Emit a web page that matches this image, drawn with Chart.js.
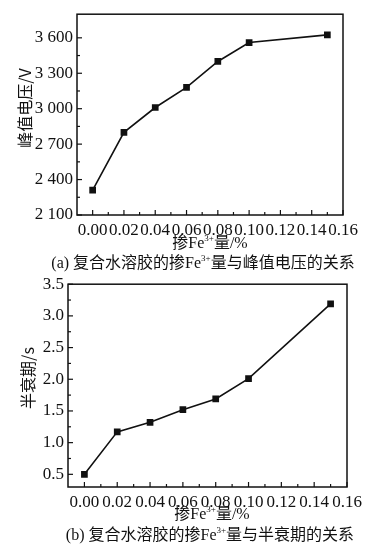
<!DOCTYPE html>
<html><head><meta charset="utf-8">
<script src="https://cdn.jsdelivr.net/npm/chart.js@4/dist/chart.umd.min.js"></script>
<style>
html,body{margin:0;padding:0;background:#fff;}
body{width:382px;height:550px;position:relative;overflow:hidden;font-family:"Liberation Serif","Noto Sans CJK SC",serif;color:#111;}
.cv{position:absolute;left:0;}
.txt{position:absolute;white-space:nowrap;font-size:16px;transform:translateX(-50%);}
.ytl{position:absolute;white-space:nowrap;font-size:16px;transform:translate(-50%,-50%) rotate(-90deg);font-family:"Noto Sans CJK SC",sans-serif;}
.cjk{font-family:"Noto Sans CJK SC",sans-serif;}
sup{font-size:9px;vertical-align:7px;line-height:0;}
</style></head>
<body>
<canvas id="ca" class="cv" style="top:0" width="382" height="270"></canvas>
<canvas id="cb" class="cv" style="top:270px" width="382" height="260"></canvas>
<div class="ytl" style="left:24px;top:108px;">峰值电压/V</div>
<div class="txt" style="left:210px;top:229px;"><span class="cjk">掺</span>Fe<sup>3+</sup><span class="cjk">量</span>/%</div>
<div class="txt" style="left:203px;top:249px;">(a) <span class="cjk">复合水溶胶的掺</span>Fe<sup>3+</sup><span class="cjk">量与峰值电压的关系</span></div>
<div class="ytl" style="left:27px;top:378px;">半衰期/s</div>
<div class="txt" style="left:212px;top:500px;"><span class="cjk">掺</span>Fe<sup>3+</sup><span class="cjk">量</span>/%</div>
<div class="txt" style="left:210px;top:521px;">(b) <span class="cjk">复合水溶胶的掺</span>Fe<sup>3+</sup><span class="cjk">量与半衰期的关系</span></div>
<script>
const fe = [0.00, 0.02, 0.04, 0.06, 0.08, 0.10, 0.15];
const peakVoltage = [2310, 2800, 3010, 3180, 3400, 3560, 3625];
const halfLife = [0.50, 1.17, 1.32, 1.52, 1.69, 2.01, 3.19];
const xTicks = [0.00, 0.02, 0.04, 0.06, 0.08, 0.10, 0.12, 0.14, 0.16];
const yTicksA = [2100, 2400, 2700, 3000, 3300, 3600];
const yTicksB = [0.5, 1.0, 1.5, 2.0, 2.5, 3.0, 3.5];

const frame = {
  id:'frame',
  afterDraw(chart, args, opts){
    const {ctx, chartArea:a, scales} = chart;
    ctx.save();
    ctx.strokeStyle='#111'; ctx.lineWidth=1.5;
    ctx.strokeRect(a.left, a.top, a.right-a.left, a.bottom-a.top);
    ctx.lineWidth=1.2;
    const x=scales.x, y=scales.y;
    const tk=(px,py,dx,dy)=>{ctx.beginPath();ctx.moveTo(px,py);ctx.lineTo(px+dx,py+dy);ctx.stroke();};
    opts.xMajor.forEach(v=>tk(x.getPixelForValue(v),a.bottom,0,-5));
    opts.xMinor.forEach(v=>tk(x.getPixelForValue(v),a.bottom,0,-3));
    opts.yMajor.forEach(v=>tk(a.left,y.getPixelForValue(v),5,0));
    opts.yMinor.forEach(v=>tk(a.left,y.getPixelForValue(v),3,0));
    ctx.restore();
  }
};

function mid(arr){const r=[];for(let i=0;i<arr.length-1;i++)r.push(+((arr[i]+arr[i+1])/2).toFixed(4));return r;}

function make(id, data, yMin, yMax, yTicks, fmt, area){
  const H = document.getElementById(id).height;
  return new Chart(document.getElementById(id), {
    type:'line',
    data:{datasets:[{data:fe.map((v,i)=>({x:v,y:data[i]})),borderColor:'#111',borderWidth:1.6,
      pointStyle:'rect',pointRadius:3.6,pointBackgroundColor:'#111',pointBorderColor:'#111',tension:0}]},
    options:{
      responsive:false,animation:false,
      layout:{padding:{top:area.top,right:382-area.right,left:0,bottom:0}},
      plugins:{legend:{display:false},tooltip:{enabled:false},
        frame:{xMajor:xTicks,xMinor:mid(xTicks),yMajor:yTicks,yMinor:mid(yTicks)}},
      scales:{
        x:{type:'linear',min:-0.01,max:0.16,
          afterBuildTicks:s=>{s.ticks=xTicks.map(v=>({value:v}));},
          afterFit:s=>{s.height=H-area.bottom;},
          grid:{display:false,drawTicks:false},border:{display:false},
          ticks:{padding:5,color:'#111',font:{family:'Liberation Serif',size:17},maxRotation:0,autoSkip:false,
            callback:v=>v.toFixed(2)}},
        y:{type:'linear',min:yMin,max:yMax,
          afterBuildTicks:s=>{s.ticks=yTicks.map(v=>({value:v}));},
          afterFit:s=>{s.width=area.left;},
          grid:{display:false,drawTicks:false},border:{display:false},
          ticks:{padding:4,color:'#111',font:{family:'Liberation Serif',size:17},autoSkip:false,callback:fmt}}
      }
    },
    plugins:[frame]
  });
}

make('ca', peakVoltage, 2100, 3800, yTicksA,
  v=>{const s=String(v);return s.slice(0,1)+' '+s.slice(1);},
  {left:77,right:343,top:7,bottom:215});
make('cb', halfLife, 0.3, 3.5, yTicksB,
  v=>v.toFixed(1),
  {left:68,right:347,top:9,bottom:217});
</script>
</body></html>
